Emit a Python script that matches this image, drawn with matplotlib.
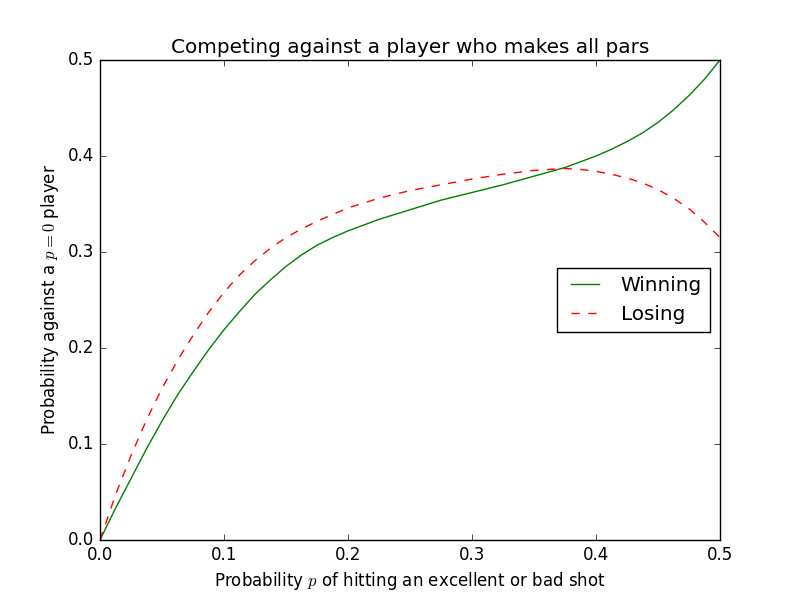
import matplotlib
matplotlib.use("Agg")
import matplotlib.pyplot as plt

# values (finer steps where the curves bend most)
p = [0.0, 0.0125, 0.025, 0.0375, 0.05, 0.0625, 0.075, 0.0875, 0.1,
     0.1125, 0.125, 0.1375, 0.15, 0.1625, 0.175, 0.1875, 0.2,
     0.225, 0.25, 0.275, 0.3, 0.325, 0.35, 0.375,
     0.3875, 0.4, 0.4125, 0.425, 0.4375, 0.45, 0.4625, 0.475, 0.4875, 0.5]
winning = [0.0, 0.033, 0.064, 0.095, 0.124, 0.151, 0.175, 0.198, 0.219,
           0.238, 0.256, 0.271, 0.285, 0.297, 0.307, 0.315, 0.322,
           0.334, 0.344, 0.354, 0.362, 0.370, 0.379, 0.388,
           0.394, 0.400, 0.407, 0.415, 0.424, 0.435, 0.448, 0.463, 0.480, 0.5]
losing = [0.0, 0.047, 0.088, 0.125, 0.158, 0.187, 0.213, 0.237, 0.258,
          0.276, 0.291, 0.304, 0.315, 0.324, 0.332, 0.339, 0.346,
          0.356, 0.364, 0.370, 0.376, 0.381, 0.385, 0.387,
          0.386, 0.384, 0.381, 0.377, 0.372, 0.365, 0.356, 0.345, 0.331, 0.315]


def solve():
    plt.style.use("classic")
    plt.figure(figsize=(8, 6))
    plt.plot(p, winning, "g-", label="Winning")
    plt.plot(p, losing, "r--", label="Losing")
    plt.title("Competing against a player who makes all pars")
    plt.xlabel("Probability $p$ of hitting an excellent or bad shot")
    plt.ylabel("Probability against a $p=0$ player")
    plt.xlim(0, 0.5)
    plt.ylim(0, 0.5)
    plt.legend(loc="center right")
    plt.savefig("out.png", dpi=100, facecolor="white")


def main():
    solve()


if __name__ == "__main__":
    main()
